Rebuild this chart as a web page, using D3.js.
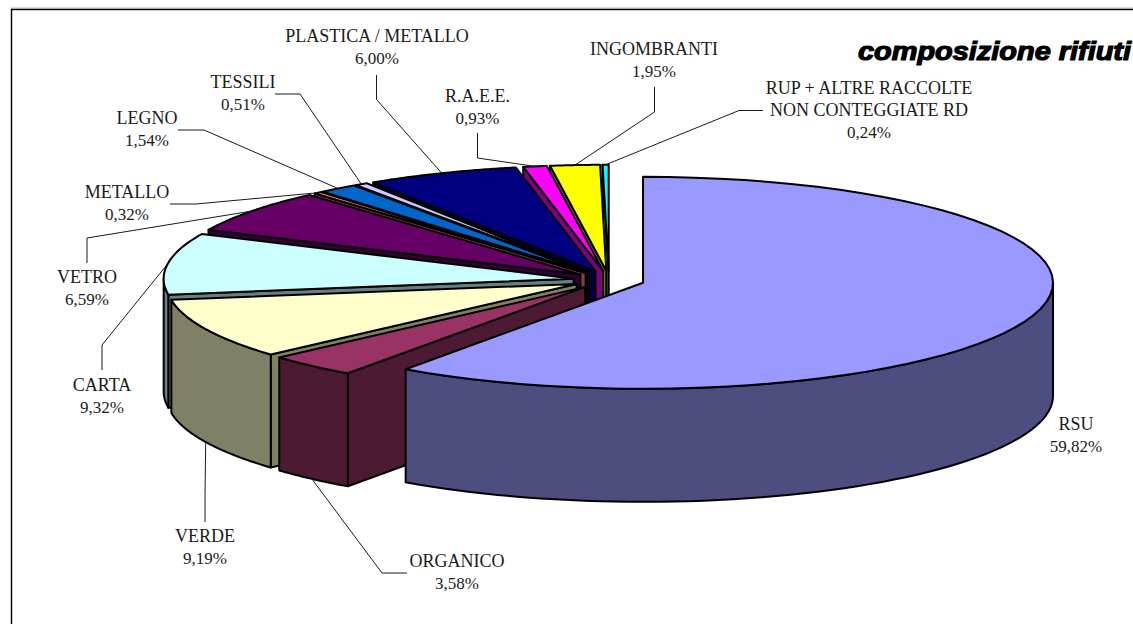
<!DOCTYPE html>
<html>
<head>
<meta charset="utf-8">
<script src="https://cdn.jsdelivr.net/npm/d3@7"></script>
<style>
  html, body { margin: 0; padding: 0; background: #fff; overflow: hidden; }
  text { font-family: "Liberation Serif", serif; font-size: 18px; fill: #1a1a1a; text-anchor: middle; }
  text.pct { font-size: 17px; }
  .title { font-family: "Liberation Sans", sans-serif; font-size: 26px; font-weight: bold; font-style: italic;
           fill: #000; stroke: #000; stroke-width: 1.2px; text-anchor: start; }
</style>
</head>
<body>
<svg id="chart" width="1133" height="624"></svg>
<script>
// composizione rifiuti, order is clockwise from 12 o'clock
var categories = ['RSU', 'ORGANICO', 'VERDE', 'CARTA', 'VETRO', 'METALLO', 'LEGNO', 'TESSILI',
                  'PLASTICA / METALLO', 'R.A.E.E.', 'INGOMBRANTI', 'RUP + ALTRE RACCOLTE|NON CONTEGGIATE RD']
var values = [59.82, 3.58, 9.19, 9.32, 6.59, 0.32, 1.54, 0.51, 6.00, 0.93, 1.95, 0.24]
var topColors = ['#9999ff', '#993366', '#ffffcc', '#ccffff', '#660066', '#ff8080',
                 '#0066cc', '#ccccff', '#000080', '#ff00ff', '#ffff00', '#00ffff']
var sideColors = ['#4d4d80', '#4d1a33', '#808066', '#668080', '#330033', '#804040',
                  '#003366', '#666680', '#000040', '#800080', '#808000', '#008080']

// label centre + first baseline, then the elbow of the leader and where it stops near the text
var labelAt = [[1076, 430], [457, 567], [205, 542], [102, 391], [87, 283], [127, 198],
               [147, 124], [243, 88], [377, 42], [477.5, 102], [654, 55], [869, 94]]
var elbows = [null,
              [[382, 573], [407, 573]],
              [[205, 497], [205, 522]],
              [[102, 345], [102, 370]],
              [[87, 238], [87, 263]],
              [[196, 204], [170, 204]],
              [[204, 130], [178, 130]],
              [[300, 94], [275, 94]],
              [[376.5, 99.5], [376.5, 75]],
              [[477.5, 158], [477.5, 133]],
              [[654.5, 112], [654.5, 87]],
              [[739, 110.5], [763, 110.5]]]

var cx = 609, cy = 280      // pie centre before the explosion
var rx = 410, ry = 106      // ellipse of the tilted top
var depth = 113
var explode = 35.7

var svg = d3.select('#chart')

// frame
svg.append('path')
    .attr('d', 'M11,8H1133')
    .attr('fill', 'none')
    .attr('stroke', '#bbb')
    .attr('stroke-width', 1)
svg.append('path')
    .attr('d', 'M11.5,624V9.5H1133')
    .attr('fill', 'none')
    .attr('stroke', '#000')
    .attr('stroke-width', 1.4)

var fmt = function(v){ return v.toFixed(2).replace('.', ',') + '%' }

var slices = d3.pie().sort(null).value(function(d){ return d })(values)

// explosion moves each slice out along its own middle angle
slices.forEach(function(s, i){
    s.mid = (s.startAngle + s.endAngle) / 2
    s.ox = cx + explode * Math.sin(s.mid)
    s.oy = cy - explode * (ry / rx) * Math.cos(s.mid)
    s.i = i
})

function rim(s, a, drop){
    return [s.ox + rx * Math.sin(a), s.oy - ry * Math.cos(a) + (drop || 0)]
}

// points along the rim, a0 to a1
function rimPoints(s, a0, a1, drop){
    return d3.range(0, 61).map(function(k){ return rim(s, a0 + (a1 - a0) * k / 60, drop) })
}

var line = d3.line()

var g = svg.append('g')
    .attr('stroke', '#000')
    .attr('stroke-width', 2)
    .attr('stroke-linejoin', 'round')

// back to front = reverse of the data order
slices.slice().reverse().forEach(function(s){
    var a0 = s.startAngle, a1 = s.endAngle, c = sideColors[s.i]

    // cut faces
    if (Math.sin(a0) < -1e-6) {
        var p = rim(s, a0)
        g.append('path').attr('fill', c)
            .attr('d', line([[s.ox, s.oy], p, [p[0], p[1] + depth], [s.ox, s.oy + depth]]) + 'Z')
    }
    if (Math.sin(a1) > 1e-6) {
        var q = rim(s, a1)
        g.append('path').attr('fill', c)
            .attr('d', line([[s.ox, s.oy], q, [q[0], q[1] + depth], [s.ox, s.oy + depth]]) + 'Z')
    }

    // outer wall, only the part on the front half
    var w0 = Math.max(a0, Math.PI / 2), w1 = Math.min(a1, Math.PI * 1.5)
    if (w1 > w0) {
        var wall = rimPoints(s, w0, w1, 0).concat(rimPoints(s, w1, w0, depth))
        g.append('path').attr('fill', c).attr('d', line(wall) + 'Z')
    }

    // top
    g.append('path').attr('fill', topColors[s.i])
        .attr('d', line([[s.ox, s.oy]].concat(rimPoints(s, a0, a1, 0))) + 'Z')
})

// leaders
slices.forEach(function(s, i){
    if (!elbows[i]) return
    var front = Math.cos(s.mid) < -0.3
    var pts = [rim(s, s.mid, front ? depth : 0)].concat(elbows[i])
    svg.append('path')
        .attr('d', line(pts))
        .attr('fill', 'none')
        .attr('stroke', '#1a1a1a')
        .attr('stroke-width', 1)
})

// labels
categories.forEach(function(name, i){
    var rows = name.split('|').concat(fmt(values[i]))
    rows.forEach(function(t, k){
        svg.append('text')
            .attr('class', k == rows.length - 1 ? 'pct' : null)
            .attr('x', labelAt[i][0])
            .attr('y', labelAt[i][1] + k * 22)
            .text(t)
    })
})

svg.append('text')
    .attr('class', 'title')
    .attr('x', 858)
    .attr('y', 60)
    .attr('textLength', 273)
    .attr('lengthAdjust', 'spacingAndGlyphs')
    .text('composizione rifiuti')
</script>
</body>
</html>
